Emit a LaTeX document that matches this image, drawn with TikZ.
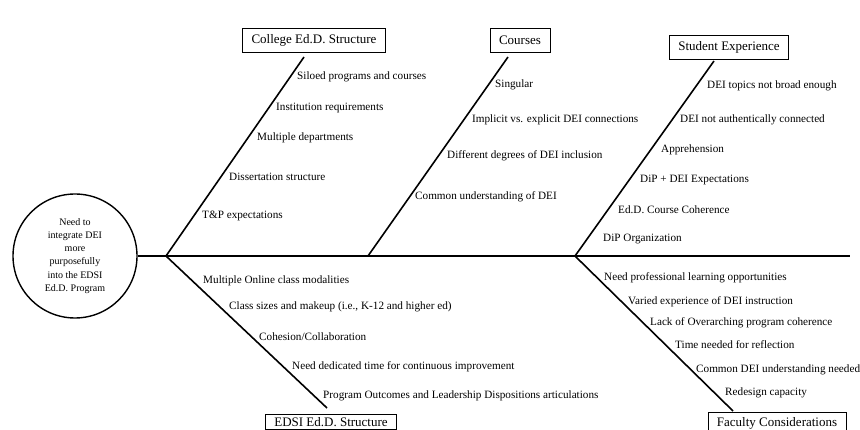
\documentclass[tikz,border=0pt]{standalone}
\usepackage{fontspec}
\setmainfont{Liberation Serif}

\begin{document}
\begin{tikzpicture}[x=1pt,y=-1pt,
  bone/.style={line width=1.6pt},
  head/.style={draw,line width=0.7pt,inner xsep=9pt,minimum height=24pt,font=\fontsize{13}{15}\selectfont},
  cause/.style={anchor=west,inner sep=0pt,font=\fontsize{11.2}{13}\selectfont}]
  \useasboundingbox (0,0) rectangle (860,430);
  % effect and spine
  \node[circle,draw,line width=1.4pt,minimum size=124pt,inner sep=0pt,align=center,font=\fontsize{10}{13.2}\selectfont] (E) at (75,256) {Need to\\integrate DEI\\more\\purposefully\\into the EDSI\\Ed.D. Program};
  \coordinate (J1) at (166,256); \coordinate (J2) at (368,256); \coordinate (J3) at (575,256); \coordinate (T) at (850,256);
  \draw[bone] (E) -- (T);
  % category boxes
  \node[head] (B1) at (314,40) {College Ed.D. Structure};
  \node[head] (B2) at (520,40) {Courses};
  \node[head] (B3) at (729,47) {Student Experience};
  \node[head,anchor=north,minimum height=0pt,inner ysep=3pt] (B4) at (331,414) {EDSI Ed.D. Structure};
  \node[head,anchor=north,minimum height=0pt,inner ysep=5pt] (B5) at (777,412) {Faculty Considerations};
  % bones
  \coordinate (t1) at (304,57); \coordinate (t2) at (508,57); \coordinate (t3) at (714,61);
  \coordinate (b4) at (327,408); \coordinate (b5) at (733,411);
  \draw[bone] (J1)--(t1); \draw[bone] (J2)--(t2); \draw[bone] (J3)--(t3);
  \draw[bone] (J1)--(b4); \draw[bone] (J3)--(b5);
  % causes
  \foreach \x/\y/\t [count=\i] in {297/77/Siloed programs and courses, 276/108/Institution requirements, 257/138/Multiple departments, 229/177/Dissertation structure, 202/216/T\&P expectations}
    \node[cause] (c1-\i) at (\x,\y) {\t};
  \foreach \x/\y/\t [count=\i] in {495/85/Singular, 472/120/Implicit vs. explicit DEI connections, 447/156/Different degrees of DEI inclusion, 415/197/Common understanding of DEI}
    \node[cause] (c2-\i) at (\x,\y) {\t};
  \foreach \x/\y/\t [count=\i] in {707/86/DEI topics not broad enough, 680/120/DEI not authentically connected, 661/150/Apprehension, 640/180/DiP + DEI Expectations, 618/210/Ed.D. Course Coherence, 603/239/DiP Organization}
    \node[cause] (c3-\i) at (\x,\y) {\t};
  \foreach \x/\y/\t [count=\i] in {203/281/Multiple Online class modalities, 229/307/{Class sizes and makeup (i.e., K-12 and higher ed)}, 259/337/{Cohesion/Collaboration}, 292/367/Need dedicated time for continuous improvement, 323/396/Program Outcomes and Leadership Dispositions articulations}
    \node[cause] (c4-\i) at (\x,\y) {\t};
  \foreach \x/\y/\t [count=\i] in {604/278/Need professional learning opportunities, 628/302/Varied experience of DEI instruction, 650/323/Lack of Overarching program coherence, 675/345/Time needed for reflection, 696/370/Common DEI understanding needed, 725/393/Redesign capacity}
    \node[cause] (c5-\i) at (\x,\y) {\t};
\end{tikzpicture}
\end{document}
